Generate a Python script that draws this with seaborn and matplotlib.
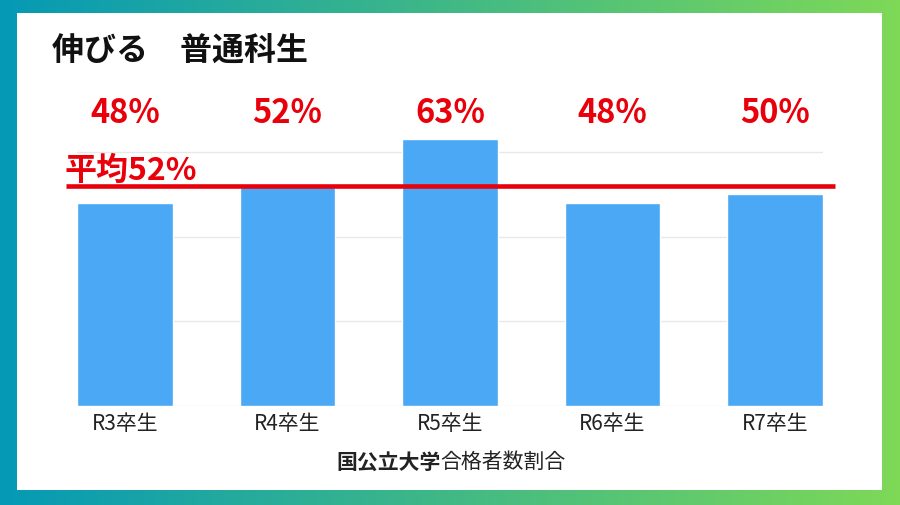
import numpy as np
import matplotlib.pyplot as plt
import seaborn as sns
from matplotlib.colors import LinearSegmentedColormap
from matplotlib.patches import Rectangle

# data
years = ['R3卒生', 'R4卒生', 'R5卒生', 'R6卒生', 'R7卒生']
rates = [48, 52, 63, 48, 50]
rate_labels = ['48%', '52%', '63%', '48%', '50%']
average = 52
average_label = '平均52%'
title = '伸びる\u3000普通科生'
xlabel_bold = '国公立大学'
xlabel_rest = '合格者数割合'

bar_color = '#4AA8F4'
red = '#E8000B'

sns.set_theme(style='white')
plt.rcParams['font.family'] = ['Noto Sans CJK JP', 'DejaVu Sans']

fig = plt.figure(figsize=(9, 5.06), dpi=100)

# gradient frame + white panel
bg = fig.add_axes([0, 0, 1, 1])
cmap = LinearSegmentedColormap.from_list('frame', ['#0599B6', '#41B986', '#7ED957'])
bg.imshow(np.linspace(0, 1, 256)[None, :], aspect='auto', cmap=cmap,
          extent=[0, 1, 0, 1])
bg.add_patch(Rectangle((17 / 900, 15 / 506), 865 / 900, 477 / 506,
                       facecolor='white', edgecolor='none'))
bg.set_xlim(0, 1)
bg.set_ylim(0, 1)
bg.axis('off')

# chart
ax = fig.add_axes([77 / 900, 99 / 506, 746 / 900, 296.5 / 506])
ax.patch.set_alpha(0)
bw = 0.59
sns.barplot(x=years, y=rates, color=bar_color, saturation=1, width=bw, ax=ax, zorder=2)
ax.set_xlim(-bw / 2, len(years) - 1 + bw / 2)
ax.set_ylim(0, 70)
ax.set_yticks([0, 20, 40, 60])
ax.yaxis.grid(True, color='#E8E8E8', linewidth=1)
ax.set_axisbelow(True)
ax.tick_params(axis='y', left=False, labelleft=False)
ax.tick_params(axis='x', length=0, pad=4, labelsize=15, labelcolor='#222222')
for s in ax.spines.values():
    s.set_visible(False)
ax.set_xlabel('')
ax.set_ylabel('')

# value labels
for i, lab in enumerate(rate_labels):
    ax.text(i, 69.3, lab, ha='center', va='center', color=red, fontsize=23.5,
            fontweight='bold', clip_on=False)

# average line
ax.plot([-0.363, 4.37], [average, average], color=red, linewidth=3.3,
        clip_on=False, zorder=3, solid_capstyle='butt')
ax.annotate(average_label, xy=(-0.363, average), xytext=(-1, 0),
            textcoords='offset points', ha='left', va='bottom', color=red,
            fontsize=23, fontweight='bold', annotation_clip=False)

# title and x label
fig.text(52 / 900, (506 - 52) / 506, title, ha='left', va='center',
         fontsize=23, fontweight='bold', color='#111111')
fig.text(441 / 900, (506 - 462) / 506, xlabel_bold, ha='right', va='center',
         fontsize=15, fontweight='bold', color='#222222')
fig.text(440 / 900, (506 - 462) / 506, xlabel_rest, ha='left', va='center',
         fontsize=15, color='#222222')

fig.savefig('out.png', dpi=100)
